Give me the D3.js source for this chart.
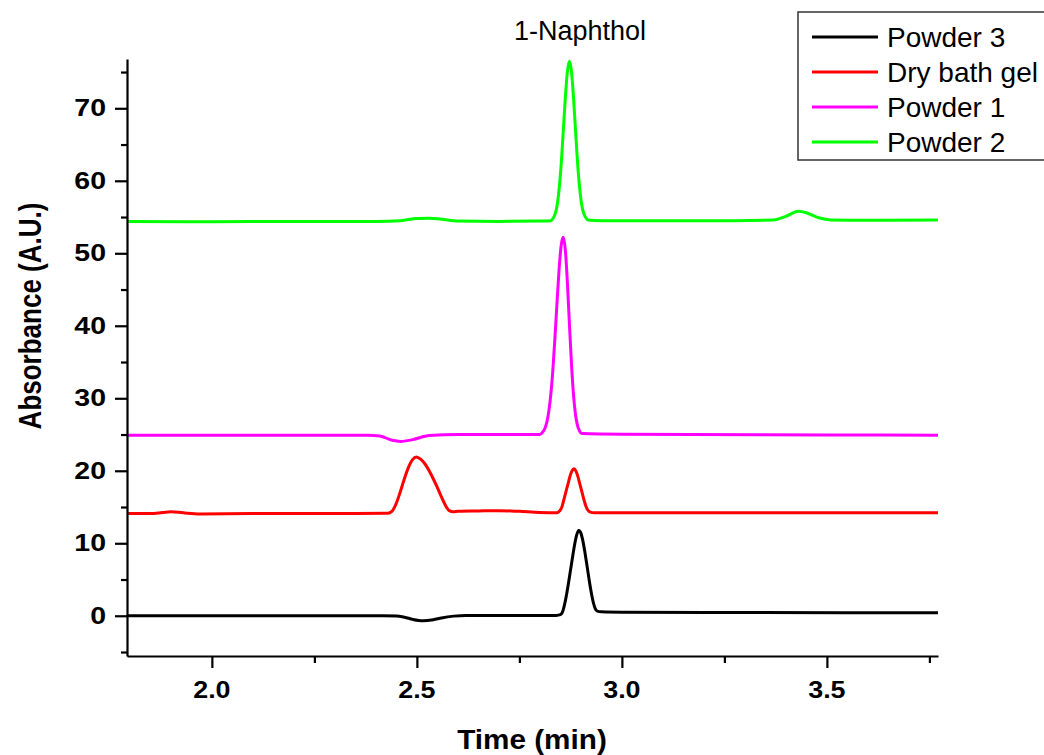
<!DOCTYPE html>
<html>
<head>
<meta charset="utf-8">
<script src="https://cdn.jsdelivr.net/npm/d3@7"></script>
<style>
  html, body { margin: 0; padding: 0; background: #fff; }
  svg { display: block; font-family: "Liberation Sans", Arial, sans-serif; }
</style>
</head>
<body>
<svg id="chart" width="1044" height="755"></svg>
<script>
// ---- Data (time in min, absorbance in A.U.) ----
const seriesNames = ["Powder 3", "Dry bath gel", "Powder 1", "Powder 2"];
const seriesColors = ["#000000", "#ff0000", "#ff00ff", "#00ff00"];

const powder3 = [
  [1.793, 0.0], [2.0, 0.0], [2.2, 0.0], [2.4, 0.0], [2.45, -0.02], [2.47, -0.2],
  [2.49, -0.5], [2.515, -0.7], [2.54, -0.55], [2.56, -0.3], [2.59, -0.05],
  [2.62, 0.05], [2.7, 0.05], [2.8, 0.05], [2.84, 0.05], [2.85, 0.15], [2.855, 0.5],
  [2.86, 1.5], [2.865, 2.9], [2.87, 4.6], [2.875, 6.4], [2.88, 8.2], [2.885, 9.9],
  [2.89, 11.2], [2.895, 11.76], [2.9, 11.4], [2.905, 10.3], [2.91, 8.7], [2.915, 6.9],
  [2.92, 5.0], [2.925, 3.3], [2.93, 1.9], [2.935, 1.0], [2.94, 0.65], [2.95, 0.55],
  [3.0, 0.5], [3.3, 0.45], [3.771, 0.42]
];

const dryBathGel = [
  [1.793, 14.1], [1.85, 14.1], [1.88, 14.25], [1.9, 14.35], [1.93, 14.2], [1.97, 14.05],
  [2.1, 14.1], [2.3, 14.1], [2.42, 14.15], [2.429, 14.15], [2.439, 14.4], [2.449, 15.4],
  [2.459, 17.0], [2.469, 18.8], [2.479, 20.4], [2.489, 21.5], [2.499, 21.9],
  [2.509, 21.6], [2.519, 21.0], [2.529, 20.1], [2.539, 19.0], [2.549, 17.8],
  [2.559, 16.5], [2.569, 15.3], [2.579, 14.5], [2.589, 14.35], [2.6, 14.4],
  [2.65, 14.45], [2.7, 14.5], [2.75, 14.4], [2.8, 14.25], [2.843, 14.22],
  [2.848, 14.45], [2.853, 14.9], [2.858, 15.9], [2.863, 17.0], [2.868, 18.05],
  [2.873, 19.15], [2.878, 19.95], [2.883, 20.27], [2.888, 19.95], [2.893, 19.15],
  [2.898, 18.05], [2.903, 17.0], [2.908, 15.9], [2.913, 15.0], [2.918, 14.5],
  [2.923, 14.3], [2.933, 14.2], [3.0, 14.2], [3.5, 14.2], [3.771, 14.2]
];

const powder1 = [
  [1.793, 24.9], [2.0, 24.9], [2.2, 24.9], [2.38, 24.9], [2.41, 24.8], [2.44, 24.2],
  [2.46, 24.05], [2.49, 24.3], [2.53, 24.85], [2.6, 25.0], [2.7, 25.0], [2.8, 25.0],
  [2.807, 25.36], [2.812, 25.8], [2.817, 26.7], [2.822, 28.3], [2.827, 30.7],
  [2.832, 34.2], [2.837, 38.6], [2.842, 43.4], [2.847, 47.9], [2.852, 51.1],
  [2.857, 52.2], [2.862, 50.5], [2.867, 46.1], [2.872, 40.3], [2.877, 34.8],
  [2.882, 30.5], [2.887, 27.7], [2.892, 26.2], [2.897, 25.46], [2.902, 25.15],
  [3.0, 25.05], [3.5, 24.95], [3.771, 24.9]
];

const powder2 = [
  [1.793, 54.4], [2.0, 54.35], [2.2, 54.4], [2.4, 54.4], [2.46, 54.5], [2.5, 54.8],
  [2.53, 54.85], [2.56, 54.7], [2.6, 54.45], [2.7, 54.4], [2.8, 54.45], [2.827, 54.5],
  [2.832, 54.8], [2.837, 55.4], [2.842, 56.6], [2.847, 58.9], [2.852, 62.3],
  [2.857, 66.8], [2.862, 71.4], [2.867, 75.0], [2.872, 76.5], [2.877, 75.1],
  [2.882, 71.5], [2.887, 66.9], [2.892, 62.4], [2.897, 59.0], [2.902, 56.7],
  [2.907, 55.5], [2.912, 54.9], [2.917, 54.6], [2.95, 54.5], [3.2, 54.5],
  [3.37, 54.6], [3.4, 55.1], [3.43, 55.8], [3.45, 55.6], [3.48, 54.9], [3.51, 54.6],
  [3.6, 54.55], [3.771, 54.6]
];

const xMajorTicks = [2.0, 2.5, 3.0, 3.5];
const xMinorTicks = [2.25, 2.75, 3.25, 3.75];
const yMajorTicks = [0, 10, 20, 30, 40, 50, 60, 70];
const yMinorTicks = [-5, 5, 15, 25, 35, 45, 55, 65, 75];
const xDomain = [1.793, 3.771];
const yDomain = [-5.55, 76.8];
const chartTitle = "1-Naphthol";
const xTitle = "Time (min)";
const yTitle = "Absorbance (A.U.)";

(function draw() {
  const svg = d3.select("#chart");
  const pL = 127, pR = 938, pT = 59, pB = 656;
  const x = d3.scaleLinear().domain(xDomain).range([pL, pR]);
  const y = d3.scaleLinear().domain(yDomain).range([pB, pT]);
  const font = '"Liberation Sans", Arial, sans-serif';

  // Data lines
  const line = d3.line().x(d => x(d[0])).y(d => y(d[1])).curve(d3.curveMonotoneX);
  const allSeries = [powder3, dryBathGel, powder1, powder2];
  svg.append("g").selectAll("path").data(allSeries).join("path")
    .attr("d", line)
    .attr("fill", "none")
    .attr("stroke", (d, i) => seriesColors[i])
    .attr("stroke-width", 3)
    .attr("stroke-linejoin", "round");

  // Axes
  const axisStyle = g => {
    g.selectAll("path, line").attr("stroke", "#000").attr("stroke-width", 2.2);
    g.selectAll("text").remove();
  };
  svg.append("g").attr("transform", `translate(0,${pB})`)
    .call(d3.axisBottom(x).tickValues(xMajorTicks).tickSize(12).tickSizeOuter(0))
    .call(axisStyle);
  svg.append("g").attr("transform", `translate(0,${pB})`)
    .call(d3.axisBottom(x).tickValues(xMinorTicks).tickSize(7).tickSizeOuter(0))
    .call(axisStyle).call(g => g.select(".domain").remove());
  svg.append("g").attr("transform", `translate(${pL},0)`)
    .call(d3.axisLeft(y).tickValues(yMajorTicks).tickSize(12).tickSizeOuter(0))
    .call(axisStyle);
  svg.append("g").attr("transform", `translate(${pL},0)`)
    .call(d3.axisLeft(y).tickValues(yMinorTicks).tickSize(6).tickSizeOuter(0))
    .call(axisStyle).call(g => g.select(".domain").remove());

  // Tick labels
  svg.append("g").selectAll("text").data(xMajorTicks).join("text")
    .attr("transform", d => `translate(${x(d)},698) scale(1.12,1)`)
    .attr("text-anchor", "middle")
    .attr("font-family", font).attr("font-weight", "bold").attr("font-size", 24)
    .text(d => d.toFixed(1));
  svg.append("g").selectAll("text").data(yMajorTicks).join("text")
    .attr("transform", d => `translate(106,${y(d) + 8}) scale(1.24,1)`)
    .attr("text-anchor", "end")
    .attr("font-family", font).attr("font-weight", "bold").attr("font-size", 23)
    .text(d => d);

  // Axis titles
  svg.append("text")
    .attr("transform", `translate(532,749) scale(1.1,1)`)
    .attr("text-anchor", "middle")
    .attr("font-family", font).attr("font-weight", "bold").attr("font-size", 27)
    .text(xTitle);
  svg.append("text")
    .attr("transform", `translate(41,316) scale(1.22,1) rotate(-90)`)
    .attr("text-anchor", "middle")
    .attr("font-family", font).attr("font-weight", "bold").attr("font-size", 26)
    .text(yTitle);

  // Chart title
  svg.append("text")
    .attr("x", 580).attr("y", 40)
    .attr("text-anchor", "middle")
    .attr("font-family", font).attr("font-size", 27)
    .text(chartTitle);

  // Legend
  const legend = svg.append("g");
  legend.append("rect")
    .attr("x", 798).attr("y", 12).attr("width", 260).attr("height", 148)
    .attr("fill", "#fff").attr("stroke", "#333").attr("stroke-width", 1.5);
  const rowY = [37, 72, 107, 142];
  const rows = legend.selectAll("g.row").data(seriesNames).join("g").attr("class", "row");
  rows.append("line")
    .attr("x1", 812).attr("x2", 878)
    .attr("y1", (d, i) => rowY[i]).attr("y2", (d, i) => rowY[i])
    .attr("stroke", (d, i) => seriesColors[i]).attr("stroke-width", 3);
  rows.append("text")
    .attr("x", 887).attr("y", (d, i) => rowY[i] + 10)
    .attr("font-family", font).attr("font-size", 28)
    .text(d => d);
})();
</script>
</body>
</html>
